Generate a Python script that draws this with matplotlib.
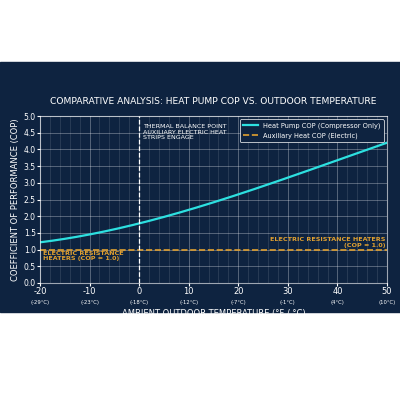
import matplotlib
matplotlib.use("Agg")
import matplotlib.pyplot as plt
import numpy as np
from matplotlib.patches import Rectangle

temps_f = [-20, -10, 0, 10, 20, 30, 40, 50]
cop = [1.22, 1.45, 1.78, 2.2, 2.65, 3.15, 3.68, 4.2]
celsius_labels = ["(-29°C)", "(-23°C)", "(-18°C)", "(-12°C)", "(-7°C)", "(-1°C)", "(4°C)", "(10°C)"]
aux_cop = 1.0
balance_point = 0

bg = "#0e2340"
fig = plt.figure(figsize=(4, 4), dpi=100, facecolor="white")
fig.patches.append(Rectangle((0, 0.22), 1, 0.625, transform=fig.transFigure, color=bg, zorder=-1))
ax = fig.add_axes([0.1, 0.2925, 0.8675, 0.4175])
ax.set_facecolor(bg)

coef = np.polyfit(temps_f, cop, 3)
xs = np.linspace(-20, 50, 200)
ax.plot(xs, np.polyval(coef, xs), color="#2de0e0", lw=1.6, label="Heat Pump COP (Compressor Only)")
ax.axhline(aux_cop, color="#e0a030", lw=1.2, ls="--", label="Auxiliary Heat COP (Electric)")
ax.axvline(balance_point, color="white", lw=0.9, ls="--")

ax.set_xlim(-20, 50)
ax.set_ylim(0, 5)
ax.set_xticks(temps_f)
ax.set_xticks(np.arange(-20, 51, 2), minor=True)
ax.set_yticks(np.arange(0, 5.01, 0.5))
ax.set_xticklabels([str(t) for t in temps_f], fontsize=6, color="white")
for t, c in zip(temps_f, celsius_labels):
    ax.text(t, -0.1, c, transform=ax.get_xaxis_transform(), fontsize=3.8, color="white", ha="center", va="top")
ax.set_yticklabels([f"{v:.1f}" for v in np.arange(0, 5.01, 0.5)], fontsize=5.5, color="white")
ax.tick_params(colors="white", length=2, pad=1)
ax.tick_params(which="minor", length=0)
ax.grid(True, which="major", color="white", alpha=0.35, lw=0.6)
ax.grid(True, which="minor", axis="x", color="white", alpha=0.15, lw=0.5)
for s in ax.spines.values():
    s.set_color("white"); s.set_alpha(0.6)

ax.set_xlabel("AMBIENT OUTDOOR TEMPERATURE (°F / °C)", fontsize=6, color="white", labelpad=9)
ax.set_ylabel("COEFFICIENT OF PERFORMANCE (COP)", fontsize=6, color="white", labelpad=3)
ax.set_title("COMPARATIVE ANALYSIS: HEAT PUMP COP VS. OUTDOOR TEMPERATURE", fontsize=6.6, color="white", pad=9, fontweight="medium")

ax.text(0.8, 4.75, "THERMAL BALANCE POINT\nAUXILIARY ELECTRIC HEAT\nSTRIPS ENGAGE", fontsize=4.6, color="white", va="top", linespacing=1.1)
ax.text(-19.3, 0.96, "ELECTRIC RESISTANCE\nHEATERS (COP = 1.0)", fontsize=4.6, color="#e0a030", va="top", linespacing=1.1, fontweight="bold")
ax.text(49.7, 1.06, "ELECTRIC RESISTANCE HEATERS\n(COP = 1.0)", fontsize=4.6, color="#e0a030", va="bottom", ha="right", linespacing=1.1, fontweight="bold")

leg = ax.legend(loc="upper right", fontsize=4.8, facecolor=bg, edgecolor="white", labelcolor="white", framealpha=1, borderpad=0.5, handlelength=2.2)
leg.get_frame().set_linewidth(0.5)

fig.savefig("out.png", dpi=100, facecolor="white")
